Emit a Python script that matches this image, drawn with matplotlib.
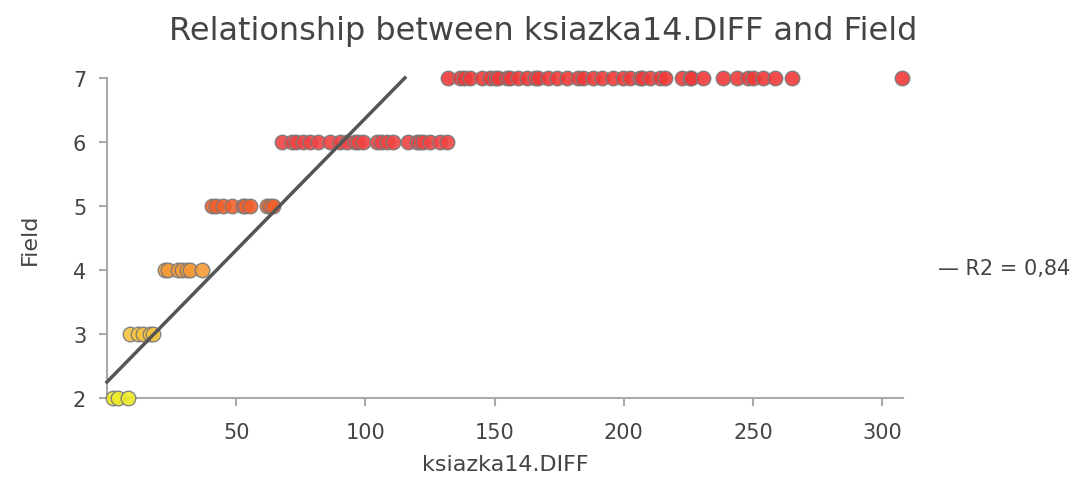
import matplotlib
matplotlib.use("Agg")
import matplotlib.pyplot as plt

# values
diff_2 = [2.3, 4.3, 8.1]
diff_3 = [8.9, 12.0, 13.9, 16.6, 17.8]
diff_4 = [22.4, 23.6, 27.5, 29.0, 30.9, 32.1, 36.8]
diff_5 = [40.6, 42.0, 44.9, 48.4, 52.6, 53.5, 55.3, 61.9, 63.0, 64.2]
diff_6 = [67.7, 71.6, 73.0, 75.8, 78.5, 81.6, 86.3, 90.1, 92.8, 95.9, 97.0,
          99.0, 104.4, 106.0, 108.3, 110.6, 116.4, 119.9, 121.0, 122.2, 125.0,
          128.8, 131.5]
diff_7 = [131.9, 136.6, 138.0, 140.4, 145.1, 148.2, 150.0, 151.3, 154.7, 156.0,
          159.0, 162.5, 165.6, 167.0, 170.6, 174.1, 178.0, 182.2, 184.1, 188.0,
          191.5, 195.8, 199.6, 202.3, 206.2, 207.0, 210.1, 213.9, 215.9, 222.4,
          225.5, 226.0, 230.6, 238.3, 243.7, 248.0, 249.9, 253.8, 258.4, 265.0,
          307.9]
groups = [(2, diff_2, "#eeea2a"), (3, diff_3, "#f5c53e"), (4, diff_4, "#f59a38"),
          (5, diff_5, "#f0602c"), (6, diff_6, "#f04444"), (7, diff_7, "#f03a3a")]

trend_x = [0, 115.3]
trend_y = [2.25, 7.0]
r2_label = "R2 = 0,84"

fig = plt.figure(figsize=(10.71, 4.81), dpi=100)
ax = fig.add_axes([0.0999, 0.1705, 0.743, 0.6655])

for field, xs, col in groups:
    ax.scatter(xs, [field] * len(xs), s=110, color=col, alpha=0.9,
               edgecolors="#7a7a7a", linewidths=1.0, clip_on=False, zorder=3)

ax.plot(trend_x, trend_y, color="#555555", lw=2.5, zorder=4, clip_on=False)

ax.set_xlim(0, 308)
ax.set_ylim(2, 7)
ax.set_xticks([50, 100, 150, 200, 250, 300])
ax.set_yticks([2, 3, 4, 5, 6, 7])
for s in ("top", "right"):
    ax.spines[s].set_visible(False)
for s in ("bottom", "left"):
    ax.spines[s].set_color("#aaaaaa")
    ax.spines[s].set_linewidth(1.5)
ax.tick_params(axis="x", colors="#aaaaaa", labelcolor="#444444", labelsize=15,
               length=6, width=1.5, pad=11)
ax.tick_params(axis="y", colors="#aaaaaa", labelcolor="#444444", labelsize=15,
               length=6, width=1.5, pad=9)

ax.set_xlabel("ksiazka14.DIFF", fontsize=16, color="#444444", labelpad=9)
ax.set_ylabel("Field", fontsize=16, color="#444444", labelpad=24)
fig.text(0.507, 0.935, "Relationship between ksiazka14.DIFF and Field",
         ha="center", va="center", fontsize=23, color="#444444")
fig.text(0.876, 0.44, "\u2014 " + r2_label, ha="left", va="center",
         fontsize=15, color="#444444")

fig.savefig("out.png", dpi=100)
